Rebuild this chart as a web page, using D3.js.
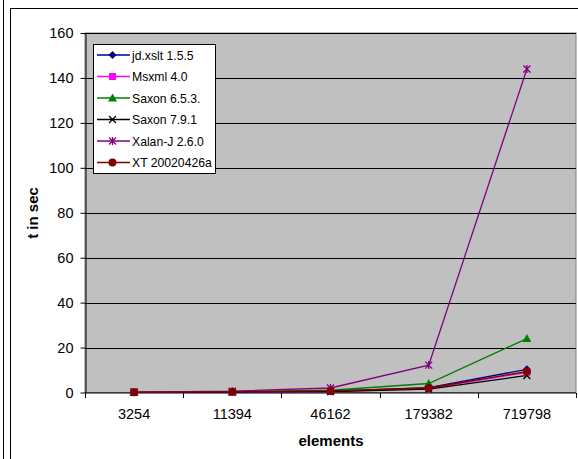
<!DOCTYPE html>
<html>
<head>
<meta charset="utf-8">
<script src="https://cdn.jsdelivr.net/npm/d3@7"></script>
<style>
  html, body { margin: 0; padding: 0; background: #fff; }
  svg { display: block; font-family: "Liberation Sans", Arial, sans-serif; }
</style>
</head>
<body>
<svg id="chart" width="578" height="459"></svg>
<script>
// Processing time per XSLT processor, by document size (elements)
const categories = ["3254", "11394", "46162", "179382", "719798"];
const yTicks = [0, 20, 40, 60, 80, 100, 120, 140, 160];

const jdXslt   = [0.1, 0.3, 0.6, 2.2, 10.3];
const msxml    = [0.1, 0.2, 0.4, 1.7, 9.0];
const saxon653 = [0.1, 0.3, 1.0, 4.0, 24.0];
const saxon791 = [0.1, 0.2, 0.4, 1.5, 7.6];
const xalanJ   = [0.2, 0.6, 2.0, 12.2, 144.0];
const xt       = [0.1, 0.3, 0.7, 2.0, 9.3];

const seriesNames  = ["jd.xslt 1.5.5", "Msxml 4.0", "Saxon 6.5.3.", "Saxon 7.9.1", "Xalan-J 2.6.0", "XT 20020426a"];
const seriesValues = [jdXslt, msxml, saxon653, saxon791, xalanJ, xt];
const seriesColors = ["#000080", "#ff00ff", "#008000", "#000000", "#800080", "#800000"];
const seriesMarkers = ["diamond", "square", "triangle", "x", "star", "circle"];

const svg = d3.select("#chart");

// frame lines around the chart object
svg.append("line").attr("x1", 3.5).attr("x2", 3.5).attr("y1", 0).attr("y2", 459).attr("stroke", "#000");
svg.append("line").attr("x1", 10.5).attr("x2", 10.5).attr("y1", 8).attr("y2", 459).attr("stroke", "#000");
svg.append("line").attr("x1", 10).attr("x2", 578).attr("y1", 8.5).attr("y2", 8.5).attr("stroke", "#000");

const plot = { left: 85, right: 576, top: 33, bottom: 392.5 };

const x = d3.scaleBand().domain(categories).range([plot.left, plot.right]);
const y = d3.scaleLinear().domain([0, 160]).range([plot.bottom, plot.top]);

// plot area
svg.append("rect")
  .attr("x", plot.left).attr("y", plot.top)
  .attr("width", plot.right - plot.left).attr("height", plot.bottom - plot.top)
  .attr("fill", "#c0c0c0").attr("stroke", "#808080");

// gridlines
svg.append("g").selectAll("line").data(yTicks.filter(d => d > 0)).join("line")
  .attr("x1", plot.left).attr("x2", plot.right)
  .attr("y1", d => Math.round(y(d)) + 0.5).attr("y2", d => Math.round(y(d)) + 0.5)
  .attr("stroke", "#000");

// y axis
const yAxis = svg.append("g").attr("transform", `translate(${plot.left + 0.5},0)`)
  .call(d3.axisLeft(y).tickValues(yTicks).tickSize(5).tickPadding(7).tickSizeOuter(0));
yAxis.select(".domain").attr("stroke", "#000");
yAxis.selectAll(".tick line").attr("stroke", "#000");
yAxis.selectAll(".tick text").attr("font-size", 14.5).attr("fill", "#000")
  .attr("font-family", "Liberation Sans, Arial, sans-serif");

// x axis: ticks between categories
const xAxisG = svg.append("g").attr("transform", `translate(0,${plot.bottom + 0.5})`);
xAxisG.append("line").attr("x1", plot.left).attr("x2", plot.right).attr("stroke", "#000");
const bounds = categories.map(c => x(c)).concat([plot.right]);
xAxisG.selectAll("line.tk").data(bounds).join("line").attr("class", "tk")
  .attr("x1", d => Math.round(d) + 0.5).attr("x2", d => Math.round(d) + 0.5)
  .attr("y1", 0).attr("y2", 5).attr("stroke", "#000");
xAxisG.selectAll("text").data(categories).join("text")
  .attr("x", d => x(d) + x.bandwidth() / 2).attr("y", 25.5)
  .attr("text-anchor", "middle").attr("font-size", 14.5).text(d => d);

// axis titles
svg.append("text").attr("x", 331).attr("y", 446).attr("text-anchor", "middle")
  .attr("font-size", 15).attr("font-weight", "bold").text("elements");
svg.append("text").attr("transform", "translate(38,213) rotate(-90)")
  .attr("text-anchor", "middle").attr("font-size", 15).attr("font-weight", "bold").text("t in sec");

function drawMarker(g, type, color, cx, cy) {
  const s = 4;
  if (type === "diamond") {
    g.append("path").attr("d", `M${cx},${cy - s}L${cx + s},${cy}L${cx},${cy + s}L${cx - s},${cy}Z`).attr("fill", color);
  } else if (type === "square") {
    g.append("rect").attr("x", cx - 3.5).attr("y", cy - 3.5).attr("width", 7).attr("height", 7).attr("fill", color);
  } else if (type === "triangle") {
    g.append("path").attr("d", `M${cx},${cy - 4.5}L${cx + 4.5},${cy + 3.5}L${cx - 4.5},${cy + 3.5}Z`).attr("fill", color);
  } else if (type === "x") {
    g.append("path").attr("d", `M${cx - 3.5},${cy - 3.5}L${cx + 3.5},${cy + 3.5}M${cx + 3.5},${cy - 3.5}L${cx - 3.5},${cy + 3.5}`)
      .attr("stroke", color).attr("stroke-width", 1.3);
  } else if (type === "star") {
    g.append("path").attr("d", `M${cx - 3.5},${cy - 3.5}L${cx + 3.5},${cy + 3.5}M${cx + 3.5},${cy - 3.5}L${cx - 3.5},${cy + 3.5}M${cx},${cy - 4}L${cx},${cy + 4}`)
      .attr("stroke", color).attr("stroke-width", 1.3);
  } else if (type === "circle") {
    g.append("circle").attr("cx", cx).attr("cy", cy).attr("r", 4).attr("fill", color);
  }
}

// series lines and markers
const line = d3.line().x((d, i) => x(categories[i]) + x.bandwidth() / 2).y(d => y(d));
const seriesG = svg.append("g");
seriesValues.forEach((vals, si) => {
  seriesG.append("path").datum(vals).attr("d", line).attr("fill", "none")
    .attr("stroke", seriesColors[si]).attr("stroke-width", 1.3);
});
seriesValues.forEach((vals, si) => {
  vals.forEach((v, i) => {
    drawMarker(seriesG, seriesMarkers[si], seriesColors[si], x(categories[i]) + x.bandwidth() / 2, y(v));
  });
});

// legend
const lg = svg.append("g");
lg.append("rect").attr("x", 93.5).attr("y", 44.5).attr("width", 122).attr("height", 129)
  .attr("fill", "#fff").attr("stroke", "#000");
seriesNames.forEach((name, i) => {
  const cy = 55 + i * 21.5;
  lg.append("line").attr("x1", 97).attr("x2", 130).attr("y1", cy).attr("y2", cy)
    .attr("stroke", seriesColors[i]).attr("stroke-width", 1.3);
  drawMarker(lg, seriesMarkers[i], seriesColors[i], 112.5, cy);
  lg.append("text").attr("x", 132).attr("y", cy + 4.5).attr("font-size", 12.2).text(name);
});
</script>
</body>
</html>
